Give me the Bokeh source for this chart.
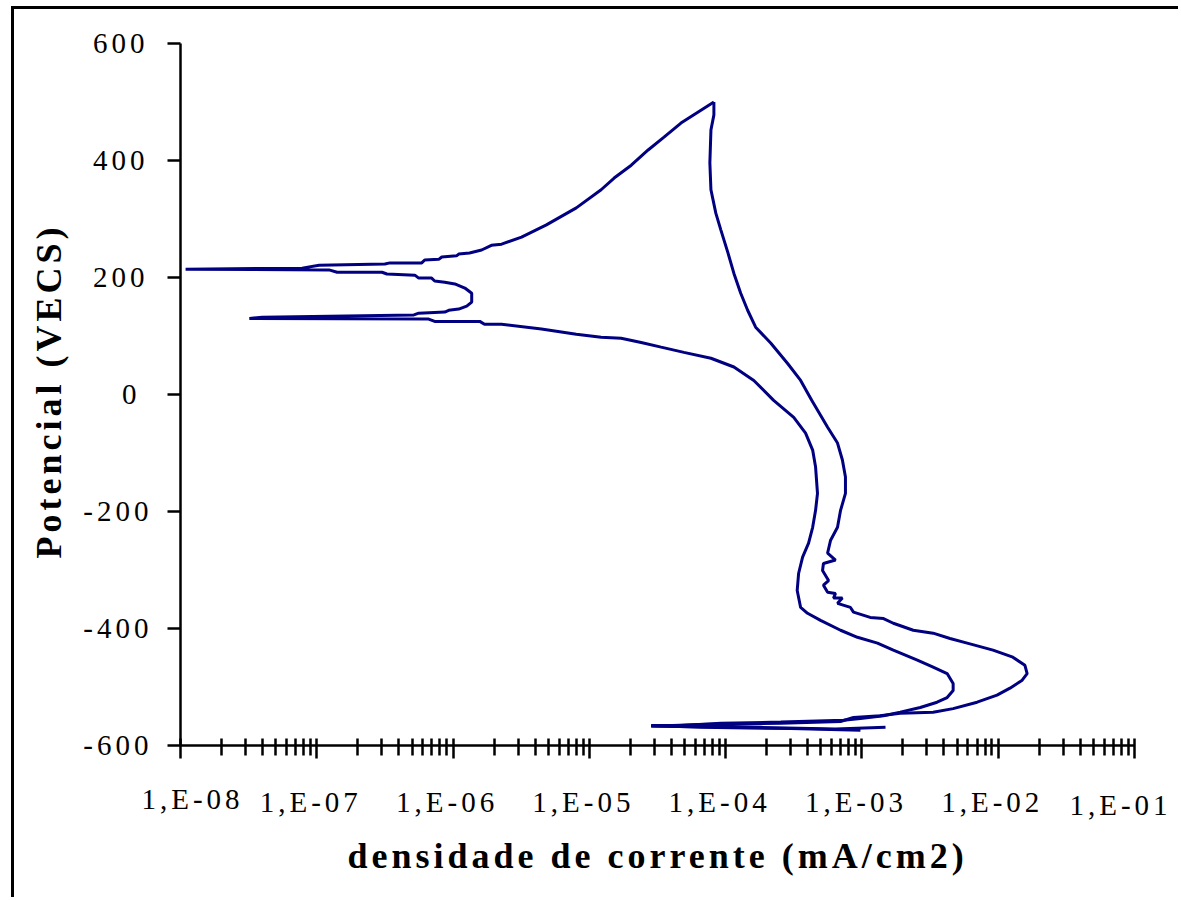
from bokeh.plotting import figure
from bokeh.models import Range1d, FixedTicker, CustomJSTickFormatter, LogAxis, LogScale, Title
from bokeh.embed import file_html
from bokeh.resources import INLINE

# ---- data (current density in mA/cm2, potential in mV vs ECS) ----
forward_current = [
    1.49e-3, 6.4e-4, 1.81e-4, 2.84e-5, 6.59e-5, 2.54e-4, 6.97e-4,
    8.67e-4, 1.36e-3, 1.91e-3, 3.33e-3, 4.67e-3, 7.0e-3, 9.8e-3, 1.22e-2, 1.49e-2, 1.63e-2,
    1.57e-2, 1.28e-2, 9.16e-3, 5.92e-3, 4.43e-3, 3.33e-3, 2.38e-3, 1.70e-3, 1.44e-3, 1.15e-3,
    8.67e-4, 8.24e-4, 6.62e-4, 7.19e-4, 6.19e-4, 6.4e-4, 5.60e-4, 5.22e-4, 5.69e-4, 5.14e-4,
    5.22e-4, 6.4e-4, 5.60e-4, 5.89e-4, 6.62e-4, 6.97e-4, 7.57e-4, 7.57e-4, 7.19e-4, 6.62e-4,
    5.60e-4, 4.28e-4, 3.55e-4, 2.85e-4, 2.14e-4, 1.66e-4, 1.45e-4, 1.29e-4, 1.15e-4, 1.04e-4,
    9.23e-5, 8.47e-5, 7.80e-5, 7.66e-5, 7.80e-5, 8.20e-5, 8.20e-5,
]
forward_potential = [
    -569, -572, -569, -567, -564, -562, -559,
    -552, -549, -545, -543, -537, -526, -514, -502, -489, -477,
    -463, -449, -437, -425, -417, -408, -403, -391, -383, -381,
    -372, -364, -357, -348, -348, -340, -338, -326, -318, -301,
    -289, -283, -271, -249, -227, -198, -169, -141, -112, -83,
    -56, -10, 24, 53, 88, 115, 144, 173, 207, 242,
    281, 310, 350, 396, 452, 478, 500,
]
reverse_current = [
    8.20e-5,
    6.59e-5, 4.70e-5, 3.53e-5, 2.70e-5, 2.03e-5, 1.52e-5, 1.22e-5, 8.02e-6, 4.84e-6, 3.18e-6, 2.27e-6,
    1.91e-6, 1.62e-6, 1.32e-6, 1.10e-6, 1.06e-6, 8.26e-7, 7.85e-7, 6.19e-7, 5.89e-7, 3.44e-7, 3.16e-7,
    1.04e-7, 7.8e-8, 1.09e-8,
    1.23e-7, 1.41e-7, 3.01e-7, 3.27e-7, 5.24e-7, 5.60e-7, 6.96e-7, 7.33e-7, 8.69e-7, 1.03e-6, 1.22e-6,
    1.37e-6, 1.37e-6, 1.26e-6, 1.10e-6, 9.29e-7, 8.69e-7, 5.60e-7, 5.16e-7, 3.98e-8, 3.20e-8,
    6.62e-7, 7.33e-7, 1.57e-6, 1.70e-6, 2.27e-6, 4.45e-6, 8.02e-6, 1.22e-5, 1.71e-5, 2.40e-5, 3.36e-5,
    4.94e-5, 7.80e-5, 1.15e-4, 1.61e-4, 2.25e-4, 3.16e-4, 3.86e-4, 4.35e-4, 4.57e-4, 4.72e-4,
    4.57e-4, 4.35e-4, 4.06e-4, 3.67e-4, 3.43e-4, 3.35e-4, 3.55e-4, 3.99e-4, 4.97e-4, 6.97e-4,
    9.27e-4, 1.30e-3, 1.70e-3, 2.55e-3, 3.33e-3, 4.22e-3, 4.67e-3, 4.67e-3, 4.22e-3, 3.56e-3,
    2.68e-3, 1.91e-3, 1.44e-3, 9.75e-4, 7.33e-4, 2.54e-4, 9.23e-5, 4.70e-5, 2.84e-5, 6.59e-5,
    3.0e-4, 9.75e-4,
]
reverse_potential = [
    500,
    486, 464, 440, 418, 392, 370, 350, 319, 290, 269, 257,
    255, 247, 242, 240, 237, 235, 231, 230, 225, 225, 223,
    221, 216, 214,
    213, 209, 209, 206, 204, 199, 199, 194, 192, 189, 182,
    173, 158, 151, 146, 144, 141, 139, 136, 132, 130,
    129, 125, 125, 120, 120, 112, 103, 98, 96, 89, 81,
    72, 62, 47, 24, -10, -39, -66, -95, -124, -169,
    -198, -227, -254, -278, -306, -335, -364, -374, -386, -403,
    -415, -425, -437, -454, -466, -477, -494, -506, -518, -526,
    -535, -543, -549, -554, -557, -560, -562, -566, -566, -569,
    -571, -574,
]

x_ticks = [1e-8, 1e-7, 1e-6, 1e-5, 1e-4, 1e-3, 1e-2, 1e-1]
x_tick_labels = ["1,E-08", "1,E-07", "1,E-06", "1,E-05", "1,E-04", "1,E-03", "1,E-02", "1,E-01"]
y_ticks = [-600, -400, -200, 0, 200, 400, 600]
y_tick_labels = ["-600", "-400", "-200", "0", "200", "400", "600"]
x_title = "densidade de corrente (mA/cm2)"
y_title = "Potencial (VECS)"

x_minor = [k * d for d in x_ticks[:-1] for k in range(2, 10)]

LINE = "#000080"
SERIF = "Liberation Serif"
SP = 4                      # letter spacing (px), applied through CSS
DECADE_PX = 956 / 7         # frame width per decade
LAB_SHIFT = 18              # px: moves the spaced x labels back under their ticks
LAST_SHIFT = 26             # px: keeps the last label inside the page
LAB_H = 32                  # height of one row of tick labels

p = figure(
    width=1167, height=891,
    x_axis_type="log",
    x_range=Range1d(x_ticks[0], x_ticks[-1]), y_range=Range1d(y_ticks[0], y_ticks[-1]),
    output_backend="svg", toolbar_location=None,
    min_border_left=164, min_border_top=34, min_border_right=47, min_border_bottom=155,
)
p.styles = {"border-top": "3px solid black", "border-left": "3px solid black",
            "margin-left": "11px", "margin-top": "6px",
            "letter-spacing": f"{SP}px"}
p.outline_line_color = None
p.grid.visible = False
p.background_fill_color = "white"
p.border_fill_color = "white"

p.line(forward_current, forward_potential, line_color=LINE, line_width=3)
p.line(reverse_current, reverse_potential, line_color=LINE, line_width=3)

lookup_js = """
for (let i = 0; i < vals.length; i++) {
  if (Math.abs(vals[i] - tick) <= 1e-9 * Math.max(1, Math.abs(tick)) ||
      (tick > 0 && vals[i] > 0 && Math.abs(Math.log10(tick) - Math.log10(vals[i])) < 1e-6)) return labs[i];
}
return "";
"""

def fmt(vals, labs):
    return CustomJSTickFormatter(args=dict(vals=vals, labs=labs), code=lookup_js)

# main x axis: line, ticks and the first label
xa = p.xaxis[0]
xa.ticker = FixedTicker(ticks=x_ticks, minor_ticks=x_minor)
xa.formatter = fmt(x_ticks[:1], x_tick_labels[:1])
xa.major_label_standoff = 24
xa.major_tick_in = 7
xa.major_tick_out = 13
xa.minor_tick_in = 7
xa.minor_tick_out = 10
xa.minor_tick_line_color = "black"
xa.minor_tick_line_width = 2.5

# label-only x axes (shifted ranges compensate the letter spacing), same row as xa labels
p.extra_x_ranges = {
    "lab": Range1d(x_ticks[0] * 10 ** (LAB_SHIFT / DECADE_PX), x_ticks[-1] * 10 ** (LAB_SHIFT / DECADE_PX)),
    "last": Range1d(x_ticks[0] * 10 ** (LAST_SHIFT / DECADE_PX), x_ticks[-1] * 10 ** (LAST_SHIFT / DECADE_PX)),
}
p.extra_x_scales = {"lab": LogScale(), "last": LogScale()}
label_axes = []
for name, ticks in (("lab", x_ticks[1:-1]), ("last", x_ticks[-1:])):
    ax = LogAxis(x_range_name=name,
                 ticker=FixedTicker(ticks=ticks, minor_ticks=[]),
                 formatter=fmt(x_ticks, x_tick_labels),
                 axis_line_color=None, major_tick_line_color=None, minor_tick_line_color=None,
                 major_tick_in=0, major_tick_out=0, minor_tick_in=0, minor_tick_out=0,
                 major_label_standoff=-LAB_H)
    p.add_layout(ax, "below")
    label_axes.append(ax)

ya = p.yaxis[0]
ya.ticker = FixedTicker(ticks=y_ticks)
ya.formatter = fmt(y_ticks, y_tick_labels)
ya.minor_tick_line_color = None
ya.major_tick_in = 0
ya.major_tick_out = 13
ya.major_label_standoff = 31

for ax in [xa, ya] + label_axes:
    ax.major_label_text_font = SERIF
    ax.major_label_text_font_size = "29px"
    ax.major_label_text_color = "black"
for ax in (xa, ya):
    ax.axis_line_color = "black"
    ax.axis_line_width = 2.5
    ax.major_tick_line_color = "black"
    ax.major_tick_line_width = 2.5

# axis titles
p.add_layout(Title(text=x_title, align="left", offset=167, standoff=20,
                   text_font=SERIF, text_font_size="36px", text_font_style="bold",
                   text_color="black"), "below")
p.add_layout(Title(text=y_title, align="left", offset=187, standoff=24,
                   text_font=SERIF, text_font_size="36px", text_font_style="bold",
                   text_color="black"), "left")

open("out.html", "w").write(file_html(p, INLINE))
